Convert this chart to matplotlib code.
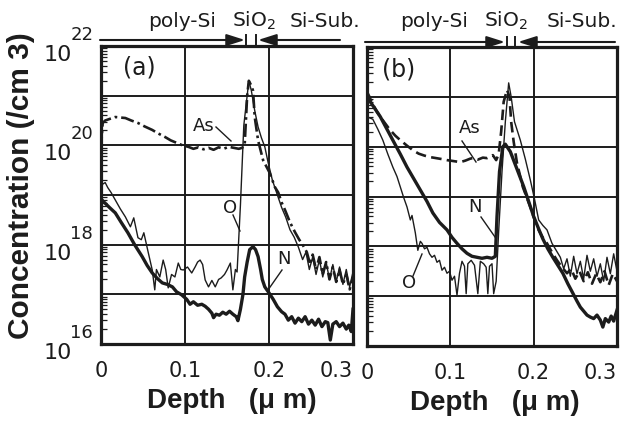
import numpy as np
import matplotlib
matplotlib.use("Agg")
import matplotlib.pyplot as plt
from matplotlib.lines import Line2D
from matplotlib.ticker import LogLocator, NullFormatter, NullLocator

# ---------------- data (depth in um, log10 of concentration in /cm3) ----------------
xtick_vals = [0, 0.1, 0.2, 0.3]
xtick_labels = ["0", "0.1", "0.2", "0.3"]
ytick_exponents = [16, 18, 20, 22]

# panel (a)
a_N_depth = [0.000, 0.004, 0.010, 0.017, 0.024, 0.032, 0.040, 0.049, 0.055, 0.061, 0.067, 0.073,
             0.079, 0.085, 0.090, 0.096, 0.102, 0.106, 0.110, 0.115, 0.120, 0.124, 0.128, 0.132,
             0.134, 0.137, 0.141, 0.145, 0.149, 0.153, 0.157, 0.161, 0.163, 0.166, 0.169, 0.171,
             0.174, 0.177, 0.181, 0.184, 0.187, 0.190, 0.192, 0.195, 0.200, 0.205, 0.210, 0.215,
             0.219, 0.223, 0.227, 0.231, 0.235, 0.239, 0.243, 0.247, 0.251, 0.255, 0.259, 0.263,
             0.267, 0.270, 0.273, 0.276, 0.280, 0.284, 0.288, 0.292, 0.295, 0.298, 0.300]
a_N_log = [18.92, 18.85, 18.75, 18.64, 18.45, 18.24, 18.00, 17.76, 17.58, 17.43, 17.32, 17.23,
           17.20, 17.15, 17.05, 16.99, 16.90, 16.80, 16.85, 16.78, 16.80, 16.76, 16.70, 16.62,
           16.53, 16.60, 16.58, 16.64, 16.60, 16.66, 16.60, 16.55, 16.47, 16.70, 17.00, 17.35,
           17.65, 17.90, 17.96, 17.90, 17.76, 17.50, 17.30, 17.15, 17.03, 16.90, 16.75, 16.65,
           16.60, 16.48, 16.55, 16.42, 16.52, 16.45, 16.55, 16.40, 16.48, 16.38, 16.50, 16.35,
           16.45, 16.43, 16.08, 16.40, 16.45, 16.35, 16.42, 16.30, 16.38, 16.25, 16.70]

a_O_depth = [0.000, 0.002, 0.005, 0.008, 0.012, 0.017, 0.023, 0.029, 0.035, 0.039, 0.044, 0.048,
             0.051, 0.056, 0.061, 0.064, 0.066, 0.070, 0.074, 0.077, 0.080, 0.084, 0.088, 0.092,
             0.095, 0.098, 0.103, 0.108, 0.112, 0.115, 0.118, 0.121, 0.124, 0.128, 0.132, 0.136,
             0.140, 0.143, 0.147, 0.150, 0.154, 0.157, 0.160, 0.162, 0.166, 0.170, 0.174, 0.176,
             0.179, 0.183, 0.187, 0.191, 0.195, 0.199, 0.204, 0.210, 0.215, 0.220, 0.225, 0.230,
             0.235, 0.240, 0.244, 0.248, 0.252, 0.256, 0.260, 0.264, 0.268, 0.272, 0.276, 0.280,
             0.284, 0.288, 0.292, 0.296, 0.300]
a_O_log = [19.10, 19.22, 19.25, 19.15, 19.05, 18.90, 18.72, 18.56, 18.36, 18.54, 18.14, 18.10,
           18.24, 17.86, 17.49, 17.09, 17.50, 17.35, 17.69, 17.50, 17.13, 17.40, 17.35, 17.63,
           17.50, 17.49, 17.55, 17.43, 17.55, 17.65, 17.69, 17.60, 17.29, 17.15, 17.28, 17.15,
           17.30, 17.33, 17.40, 17.49, 17.63, 17.09, 17.50, 17.45, 18.80, 20.40, 21.00, 21.30,
           21.10, 20.70, 20.37, 20.15, 19.97, 19.65, 19.30, 19.00, 18.75, 18.55, 18.30, 18.15,
           17.95, 17.70, 17.85, 17.50, 17.75, 17.40, 17.70, 17.35, 17.65, 17.30, 17.60, 17.25,
           17.55, 17.20, 17.50, 17.15, 17.45]

a_As_depth = [0.000, 0.001, 0.002, 0.005, 0.010, 0.017, 0.023, 0.029, 0.036, 0.044, 0.052, 0.061,
              0.068, 0.076, 0.083, 0.090, 0.097, 0.104, 0.110, 0.116, 0.122, 0.128, 0.134, 0.140,
              0.146, 0.152, 0.158, 0.164, 0.168, 0.171, 0.174, 0.176, 0.179, 0.181, 0.183, 0.187,
              0.193, 0.201, 0.207, 0.211, 0.215, 0.219, 0.225, 0.231, 0.236, 0.240, 0.245, 0.249,
              0.252, 0.256, 0.260, 0.264, 0.268, 0.272, 0.276, 0.280, 0.284, 0.288, 0.292, 0.296,
              0.300]
a_As_log = [19.90, 20.20, 20.45, 20.50, 20.53, 20.57, 20.56, 20.55, 20.50, 20.45, 20.38, 20.31,
            20.24, 20.17, 20.10, 20.05, 20.00, 19.97, 19.93, 19.96, 19.92, 19.95, 19.91, 19.96,
            19.93, 19.97, 19.95, 19.93, 19.95, 20.00, 21.00, 21.30, 21.20, 21.10, 20.57, 20.10,
            19.70, 19.44, 19.16, 19.05, 18.85, 18.70, 18.45, 18.25, 18.10, 18.00, 17.85, 17.60,
            17.80, 17.50, 17.75, 17.40, 17.65, 17.30, 17.55, 17.25, 17.50, 17.20, 17.40, 17.10,
            17.35]

# panel (b)
b_N_depth = [0.000, 0.004, 0.010, 0.016, 0.023, 0.031, 0.040, 0.048, 0.056, 0.064, 0.072, 0.079,
             0.087, 0.096, 0.102, 0.108, 0.114, 0.120, 0.126, 0.132, 0.138, 0.144, 0.150, 0.154,
             0.156, 0.159, 0.163, 0.166, 0.172, 0.180, 0.188, 0.195, 0.200, 0.206, 0.211, 0.217,
             0.223, 0.229, 0.235, 0.241, 0.247, 0.252, 0.256, 0.260, 0.264, 0.268, 0.272, 0.276,
             0.280, 0.283, 0.286, 0.290, 0.293, 0.296, 0.300]
b_N_log = [20.95, 20.90, 20.75, 20.60, 20.38, 20.13, 19.85, 19.59, 19.36, 19.13, 18.90, 18.67,
           18.48, 18.33, 18.18, 18.06, 17.95, 17.86, 17.80, 17.78, 17.76, 17.78, 17.76, 17.80,
           18.60, 19.50, 20.00, 20.05, 19.90, 19.55, 19.20, 18.85, 18.60, 18.35, 18.15, 17.95,
           17.78, 17.62, 17.46, 17.25, 17.06, 16.90, 16.78, 16.70, 16.62, 16.58, 16.55, 16.62,
           16.52, 16.38, 16.55, 16.48, 16.60, 16.50, 16.72]

b_O_depth = [0.000, 0.007, 0.013, 0.019, 0.025, 0.031, 0.036, 0.040, 0.044, 0.048, 0.052, 0.054,
             0.058, 0.061, 0.064, 0.066, 0.069, 0.072, 0.075, 0.078, 0.081, 0.084, 0.087, 0.090,
             0.093, 0.096, 0.099, 0.102, 0.105, 0.108, 0.111, 0.114, 0.117, 0.119, 0.121, 0.125,
             0.129, 0.133, 0.136, 0.140, 0.143, 0.145, 0.147, 0.150, 0.152, 0.155, 0.158, 0.162,
             0.166, 0.170, 0.173, 0.177, 0.184, 0.190, 0.196, 0.201, 0.206, 0.211, 0.216, 0.222,
             0.227, 0.232, 0.236, 0.240, 0.244, 0.248, 0.252, 0.256, 0.260, 0.264, 0.268, 0.272,
             0.276, 0.280, 0.284, 0.288, 0.292, 0.296, 0.300]
b_O_log = [20.60, 20.55, 20.35, 20.13, 19.85, 19.59, 19.40, 19.19, 18.98, 18.79, 18.53, 18.62,
           18.27, 17.92, 18.10, 18.06, 17.95, 17.98, 17.85, 17.78, 17.82, 17.68, 17.72, 17.52,
           17.58, 17.46, 17.50, 17.32, 17.40, 17.02, 17.46, 17.70, 17.60, 17.05, 17.65, 17.72,
           17.62, 17.05, 17.70, 17.65, 17.58, 17.05, 17.60, 17.65, 17.05, 17.30, 18.30, 19.50,
           20.50, 21.28, 21.00, 20.50, 20.13, 19.75, 19.33, 18.95, 18.53, 18.42, 18.33, 18.06,
           17.92, 17.78, 17.55, 17.75, 17.40, 17.80, 17.45, 17.70, 17.35, 17.82, 17.50, 17.75,
           17.40, 17.65, 17.30, 17.78, 17.45, 17.85, 17.50]

b_As_depth = [0.000, 0.003, 0.006, 0.012, 0.019, 0.027, 0.034, 0.040, 0.048, 0.055, 0.062, 0.069,
              0.076, 0.083, 0.090, 0.096, 0.104, 0.112, 0.118, 0.124, 0.127, 0.133, 0.139, 0.144,
              0.148, 0.151, 0.155, 0.158, 0.161, 0.164, 0.168, 0.171, 0.173, 0.176, 0.180, 0.187,
              0.196, 0.204, 0.210, 0.216, 0.222, 0.228, 0.234, 0.240, 0.245, 0.250, 0.255, 0.260,
              0.265, 0.270, 0.275, 0.280, 0.285, 0.290, 0.295, 0.300]
b_As_log = [21.10, 21.00, 20.88, 20.70, 20.53, 20.35, 20.22, 20.13, 20.02, 19.93, 19.86, 19.82,
            19.79, 19.77, 19.75, 19.73, 19.71, 19.69, 19.72, 19.76, 19.77, 19.74, 19.78, 19.77,
            19.80, 19.83, 19.73, 19.85, 20.30, 20.90, 21.14, 21.00, 20.50, 20.10, 19.67, 19.19,
            18.79, 18.39, 18.20, 18.06, 17.88, 17.72, 17.58, 17.46, 17.55, 17.35, 17.50, 17.30,
            17.48, 17.25, 17.45, 17.28, 17.50, 17.22, 17.45, 17.30]

# ---------------- figure ----------------
INK = "#1c1c1c"
W, H = 624, 422
fig = plt.figure(figsize=(W / 100, H / 100), dpi=100)
fig.patch.set_facecolor("white")


def fx(px):
    return px / W


def fy(py):
    return 1 - py / H


ax_a = fig.add_axes([fx(101), fy(344), fx(353) - fx(101), fy(46) - fy(344)])
ax_b = fig.add_axes([fx(367), fy(346), fx(617) - fx(367), fy(47) - fy(346)])

for ax in (ax_a, ax_b):
    ax.set_yscale("log")
    ax.set_xlim(0, 0.3)
    ax.set_ylim(1e16, 1e22)
    ax.yaxis.set_major_locator(LogLocator(base=10, numticks=10))
    ax.yaxis.set_minor_locator(LogLocator(base=10, subs=range(2, 10), numticks=20))
    ax.yaxis.set_minor_formatter(NullFormatter())
    ax.set_yticklabels([])
    ax.set_xticks(xtick_vals)
    ax.set_xticklabels(xtick_labels, fontsize=15, family="DejaVu Sans", color=INK)
    ax.get_xticklabels()[-1].set_ha("right")
    ax.tick_params(axis="both", which="major", length=0, pad=12)
    ax.tick_params(axis="y", which="minor", direction="in", length=4, width=0.9,
                   left=True, right=False, color=INK)
    ax.xaxis.set_minor_locator(NullLocator())
    ax.grid(True, which="major", color=INK, lw=1.4)
    for s in ax.spines.values():
        s.set_linewidth(2.3)
        s.set_color(INK)


def draw(ax, Nd, Nl, Od, Ol, Ad, Al, as_dashes):
    ax.plot(Od, 10 ** np.array(Ol), color=INK, lw=1.0, zorder=3)
    ax.plot(Ad, 10 ** np.array(Al), color=INK, lw=1.9, dashes=as_dashes, zorder=3)
    ax.plot(Nd, 10 ** np.array(Nl), color=INK, lw=2.4, zorder=4)


draw(ax_a, a_N_depth, a_N_log, a_O_depth, a_O_log, a_As_depth, a_As_log, (5, 1.5, 1, 1.5))
draw(ax_b, b_N_depth, b_N_log, b_O_depth, b_O_log, b_As_depth, b_As_log, (4, 2))

# y tick labels 10^k on panel (a)
for k in ytick_exponents:
    ax_a.annotate("10", xy=(0, 10.0 ** k), xycoords=("axes fraction", "data"),
                  xytext=(-20.9, -6.5), textcoords="offset points", ha="right", va="center",
                  fontsize=16, family="DejaVu Sans", color=INK, annotation_clip=False)
    ax_a.annotate(str(k), xy=(0, 10.0 ** k), xycoords=("axes fraction", "data"),
                  xytext=(-22.0, 7.9), textcoords="offset points", ha="left", va="center",
                  fontsize=13, family="DejaVu Sans", color=INK, annotation_clip=False)

# axis titles
fig.text(fx(21), fy(186), "Concentration (/cm 3)", rotation=90, ha="center", va="center",
         fontsize=21.5, weight="bold", family="Liberation Sans", color=INK)
fig.text(fx(232), fy(408), "Depth   (\u03bc m)", ha="center", va="baseline",
         fontsize=20, weight="bold", family="Liberation Sans", color=INK)
fig.text(fx(495), fy(410), "Depth   (\u03bc m)", ha="center", va="baseline",
         fontsize=20, weight="bold", family="Liberation Sans", color=INK)

# panel tags
fig.text(fx(123), fy(68), "(a)", ha="left", va="center", fontsize=17, family="DejaVu Sans", color=INK)
fig.text(fx(382), fy(70), "(b)", ha="left", va="center", fontsize=17, family="DejaVu Sans", color=INK)

# top region annotations
plt.rcParams["mathtext.default"] = "regular"
tops = [
    # (line start, tip right-arrow, bar1, bar2, tip left-arrow, line end, y, text centers)
    (100, 245, 246, 256, 258, 340, 40, (182, 254, 325)),
    (365, 505, 507, 515, 518, 615, 42, (434, 506, 582)),
]
for x0, t1, b1, b2, t2, x1, yl, (c1, c2, c3) in tops:
    ap = dict(arrowstyle="-|>,head_length=1.1,head_width=0.35", lw=1.5, color=INK,
              mutation_scale=10, shrinkA=0, shrinkB=0)
    fig.add_artist(plt.Annotation("", xy=(fx(t1), fy(yl)), xytext=(fx(x0), fy(yl)),
                                  xycoords="figure fraction", textcoords="figure fraction",
                                  arrowprops=ap))
    fig.add_artist(plt.Annotation("", xy=(fx(t2), fy(yl)), xytext=(fx(x1), fy(yl)),
                                  xycoords="figure fraction", textcoords="figure fraction",
                                  arrowprops=ap))
    for bx in (b1, b2):
        fig.add_artist(Line2D([fx(bx), fx(bx)], [fy(yl - 5), fy(yl + 5)], color=INK, lw=1.4))
    for cx, s in zip((c1, c2, c3), ("poly-Si", "SiO$_2$", "Si-Sub.")):
        fig.text(fx(cx), fy(27), s, ha="center", va="baseline", fontsize=14.5,
                 family="DejaVu Sans", color=INK)

# curve labels with leader lines
labels = [
    ("As", 204, 126, (216, 127), (231, 141)),
    ("O", 230, 208, (233, 215), (240, 231)),
    ("N", 284, 259, (282, 270), (268, 290)),
    ("As", 470, 128, (462, 141), (476, 162)),
    ("N", 475, 207, (481, 217), (495, 237)),
    ("O", 409, 283, (413, 276), (422, 254)),
]
for s, cx, cy, p0, p1 in labels:
    fig.text(fx(cx), fy(cy), s, ha="center", va="center", fontsize=13,
             family="DejaVu Sans", color=INK)
    fig.add_artist(Line2D([fx(p0[0]), fx(p1[0])], [fy(p0[1]), fy(p1[1])], color=INK, lw=1.0))

fig.savefig("out.png", dpi=100, facecolor="white")
